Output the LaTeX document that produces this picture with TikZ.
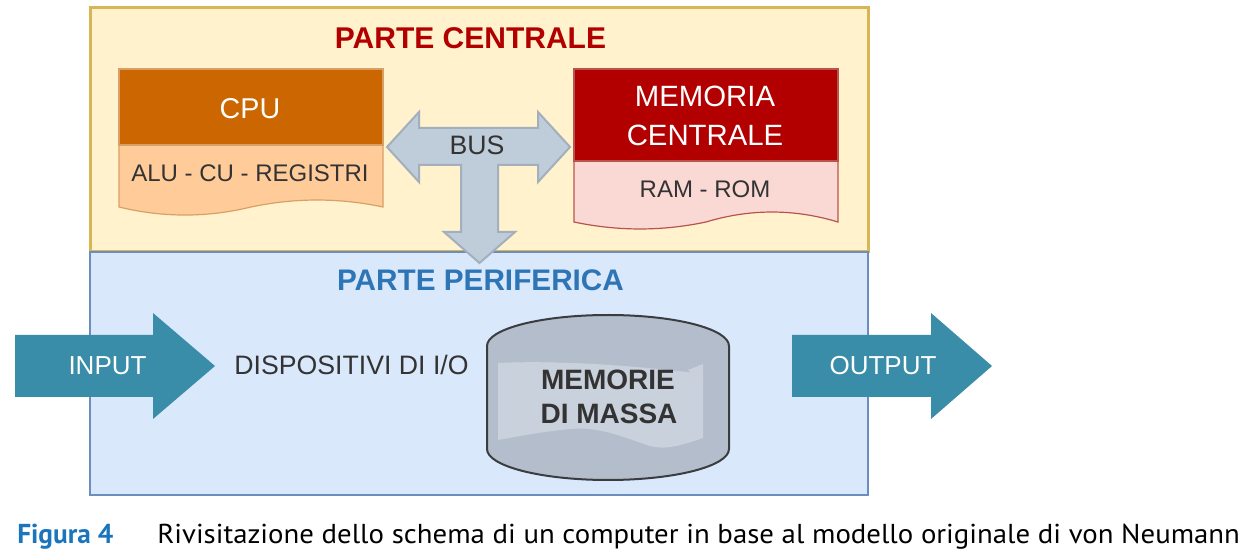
\documentclass[tikz,border=0pt]{standalone}
\usepackage{fontspec}
\setmainfont{Liberation Sans}
\newfontfamily\capfont{PT Sans}
\definecolor{topfill}{HTML}{FFF2CC}
\definecolor{topline}{HTML}{D6B656}
\definecolor{botfill}{HTML}{DAE8FC}
\definecolor{botline}{HTML}{6C8EBF}
\definecolor{cpuhead}{HTML}{CC6600}
\definecolor{cpulow}{HTML}{FFCC99}
\definecolor{cpuline}{HTML}{D9A066}
\definecolor{memhead}{HTML}{B20000}
\definecolor{memlow}{HTML}{FAD9D5}
\definecolor{memline}{HTML}{B85450}
\definecolor{busfill}{HTML}{BFCCDA}
\definecolor{busline}{HTML}{A3AFBD}
\definecolor{ioarrow}{HTML}{3A8DA8}
\definecolor{cylfill}{HTML}{B3BDCC}
\definecolor{cyllight}{HTML}{C9D1DC}
\definecolor{cylline}{HTML}{3A3C40}
\definecolor{titlered}{HTML}{B20000}
\definecolor{titleblue}{HTML}{2E75B6}
\definecolor{capblue}{HTML}{1B75BC}
\definecolor{darktext}{HTML}{333333}
\begin{document}
\begin{tikzpicture}[x=0.75pt,y=-0.75pt,
  txt/.style={inner sep=0pt, anchor=base},
  whitetxt/.style={txt, text=white},
  darktxt/.style={txt, text=darktext}]
\useasboundingbox (0,0) rectangle (1248,555);
\fill[white] (0,0) rectangle (1248,555);
% main boxes
\draw[line width=2.25pt, draw=topline, fill=topfill] (90,8) rectangle (868,252);
\draw[line width=1.8pt, draw=botline, fill=botfill] (90,252) rectangle (868,495);
% titles
\node[txt, text=titlered, font=\bfseries\fontsize{22.5pt}{26pt}\selectfont] (tc) at (470.5,49) {PARTE CENTRALE};
\node[txt, text=titleblue, font=\bfseries\fontsize{22.3pt}{26pt}\selectfont] (tp) at (480.5,291) {PARTE PERIFERICA};
% CPU
\draw[line width=0.9pt, draw=cpuline, fill=cpulow] (119,145) -- (383,145) -- (383,207)
  .. controls (339,197.7) and (295,197.7) .. (251,207)
  .. controls (207,217.7) and (163,217.7) .. (119,207) -- cycle;
\draw[line width=0.9pt, draw=cpuline, fill=cpuhead] (119,69) rectangle (383,145);
\node[whitetxt, font=\fontsize{21.5pt}{26pt}\selectfont] (cpu) at (250,119) {CPU};
\node[darktxt, font=\fontsize{18pt}{22pt}\selectfont] (alu) at (250,182) {ALU - CU - REGISTRI};
% Memoria
\draw[line width=0.9pt, draw=memline, fill=memlow] (574,161) -- (838,161) -- (838,222)
  .. controls (794,208.7) and (750,208.7) .. (706,222)
  .. controls (662,231.3) and (618,231.3) .. (574,222) -- cycle;
\draw[line width=0.9pt, draw=memline, fill=memhead] (574,69) rectangle (838,161);
\node[whitetxt, font=\fontsize{22pt}{26pt}\selectfont] (mem1) at (705,107) {MEMORIA};
\node[whitetxt, font=\fontsize{22pt}{26pt}\selectfont] (mem2) at (705,146) {CENTRALE};
\node[darktxt, font=\fontsize{18pt}{22pt}\selectfont] (ram) at (705,198) {RAM - ROM};
% BUS arrow
\draw[line width=1.5pt, draw=busline, fill=busfill, line join=miter]
  (387,147) -- (419,112) -- (419,128) -- (538,128) -- (538,112) -- (570,147)
  -- (538,182) -- (538,165) -- (498,165) -- (498,232) -- (515,232) -- (479.5,263)
  -- (444,232) -- (461,232) -- (461,165) -- (419,165) -- (419,182) -- cycle;
\node[darktxt, font=\fontsize{20pt}{24pt}\selectfont] (bus) at (477,155) {BUS};
% Input / output arrows
\fill[ioarrow] (15,335) -- (153,335) -- (153,313) -- (215,366) -- (153,419) -- (153,397) -- (15,397) -- cycle;
\node[whitetxt, font=\fontsize{19.5pt}{24pt}\selectfont] (in) at (107.5,375) {INPUT};
\fill[ioarrow] (792,335) -- (931,335) -- (931,313) -- (992,366) -- (931,419) -- (931,397) -- (792,397) -- cycle;
\node[whitetxt, font=\fontsize{19.5pt}{24pt}\selectfont] (out) at (883,375) {OUTPUT};
\node[darktxt, font=\fontsize{20pt}{24pt}\selectfont] (dio) at (351.5,375) {DISPOSITIVI DI I/O};
% Cylinder
\fill[cylfill] (487,346) -- (487,449) arc[start angle=180, end angle=0, x radius=121, y radius=31]
  -- (729,346) arc[start angle=0, end angle=-180, x radius=121, y radius=31] -- cycle;
\fill[cyllight] (498,363) .. controls (560,360) and (640,366) .. (703,374)
  -- (703,438) .. controls (680,446) and (665,450) .. (650,446)
  .. controls (625,438) and (600,426) .. (570,429)
  .. controls (540,432) and (520,436) .. (498,440) -- cycle;
\fill[cylfill!70!white] (688,370) -- (703,364) -- (703,384) -- cycle;
\draw[line width=1.5pt, draw=cylline] (487,346) -- (487,449) arc[start angle=180, end angle=0, x radius=121, y radius=31]
  -- (729,346) arc[start angle=0, end angle=-180, x radius=121, y radius=31] -- cycle;
\node[darktxt, font=\bfseries\fontsize{21pt}{25pt}\selectfont] (mm1) at (608,390) {MEMORIE};
\node[darktxt, font=\bfseries\fontsize{21pt}{25pt}\selectfont] (mm2) at (609,423) {DI MASSA};
% caption
\node[txt, anchor=base west, text=capblue, font=\capfont\bfseries\fontsize{20.5pt}{24pt}\selectfont] (fig) at (17,543) {\resizebox{72pt}{\height}{Figura 4}};
\node[txt, anchor=base west, text=black, font=\capfont\fontsize{20.5pt}{24pt}\selectfont] (cap) at (157,543) {\resizebox{812pt}{\height}{Rivisitazione dello schema di un computer in base al modello originale di von Neumann}};
\end{tikzpicture}
\end{document}
